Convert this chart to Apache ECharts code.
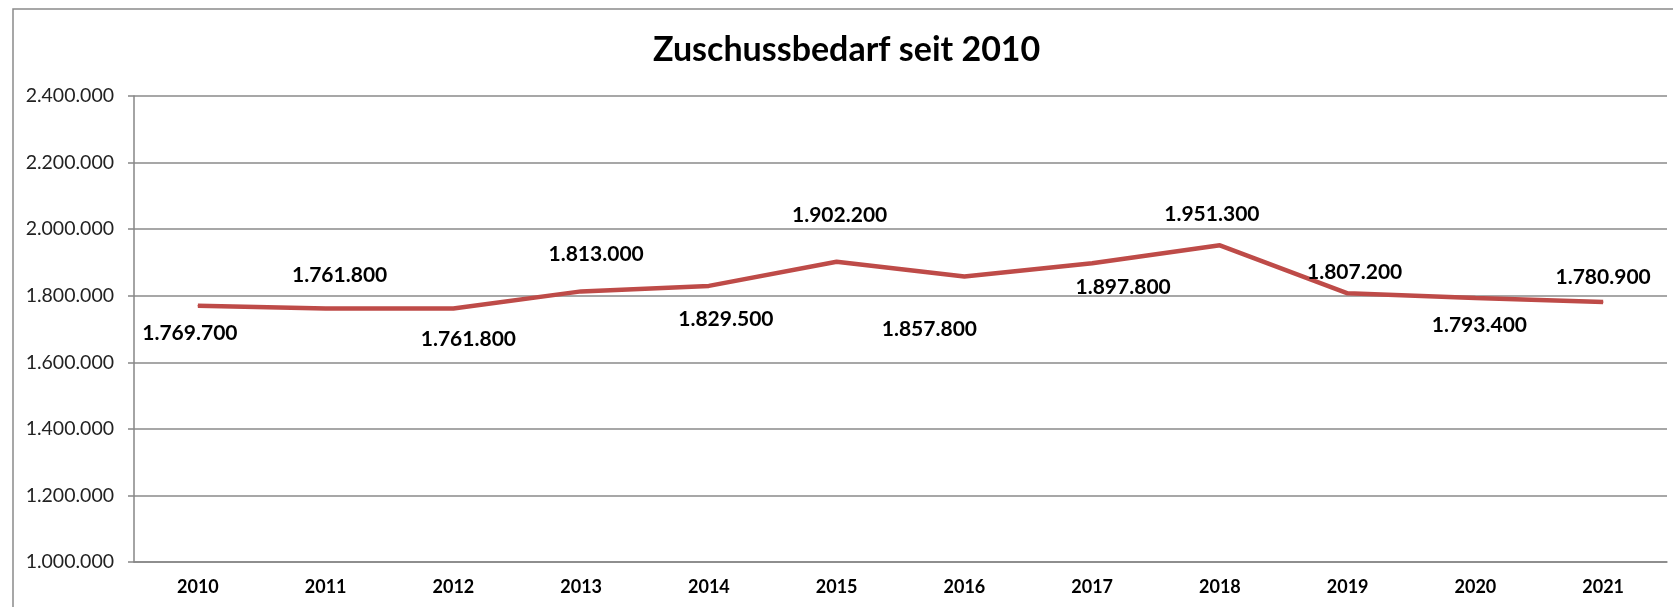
<!DOCTYPE html>
<html>
<head>
<meta charset="utf-8">
<script src="https://cdn.jsdelivr.net/npm/echarts@6/dist/echarts.min.js"></script>
<style>
  html, body { margin: 0; padding: 0; background: #fff; }
  #chart { width: 1673px; height: 607px; }
</style>
</head>
<body>
<div id="chart"></div>
<script>
const years = ['2010', '2011', '2012', '2013', '2014', '2015', '2016', '2017', '2018', '2019', '2020', '2021'];
const zuschuss = [1769700, 1761800, 1761800, 1813000, 1829500, 1902200, 1857800, 1897800, 1951300, 1807200, 1793400, 1780900];
const yTicks = [1000000, 2400000, 200000]; // min, max, step

// label placement like in the original (Excel puts them a bit everywhere)
const labelOffsets = [
  [-8, 27], [14, -33], [15, 31], [15, -37], [17, 33], [3, -46],
  [-35, 53], [31, 24], [-8, -31], [7, -21], [4, 27], [0, -25]
];

// 1769700 -> "1.769.700"
const fmt = v => String(v).replace(/\B(?=(\d{3})+(?!\d))/g, '.');

const chart = echarts.init(document.getElementById('chart'));

const option = {
  backgroundColor: '#fff',
  animation: false,
  title: {
    text: 'Zuschussbedarf seit 2010',
    left: 648,
    top: 28,
    textStyle: { fontFamily: 'Lato', fontWeight: 'bold', fontSize: 34, color: '#000' }
  },
  graphic: [{
    type: 'rect',
    shape: { x: 13, y: 9, width: 1700, height: 640 },
    style: { fill: null, stroke: '#8a8a8a', lineWidth: 1.5 },
    silent: true
  }],
  grid: { left: 134, right: 6, top: 96, bottom: 45 },
  xAxis: {
    type: 'category',
    data: years,
    boundaryGap: true,
    axisLine: { lineStyle: { color: '#868686', width: 1.5 } },
    axisTick: { length: 6, lineStyle: { color: '#868686', width: 1.5 } },
    axisLabel: { fontFamily: 'Lato', fontWeight: 'bold', fontSize: 18, color: '#000', margin: 16 }
  },
  yAxis: {
    type: 'value',
    min: yTicks[0],
    max: yTicks[1],
    interval: yTicks[2],
    axisLine: { show: true, lineStyle: { color: '#868686', width: 1.5 } },
    axisTick: { show: true, length: 6, lineStyle: { color: '#868686', width: 1.5 } },
    splitLine: { lineStyle: { color: '#8a8a8a', width: 1.5 } },
    axisLabel: { fontFamily: 'Lato', fontSize: 19.5, color: '#222', margin: 20, formatter: fmt }
  },
  series: [{
    type: 'line',
    data: zuschuss.map((v, i) => ({
      value: v,
      label: { offset: labelOffsets[i] }
    })),
    symbol: 'circle',
    symbolSize: 1,
    showSymbol: true,
    lineStyle: { color: '#BE4B48', width: 4.5 },
    itemStyle: { color: '#BE4B48' },
    label: {
      show: true,
      position: 'inside',
      align: 'center',
      verticalAlign: 'middle',
      fontFamily: 'Lato',
      fontWeight: 'bold',
      fontSize: 21,
      color: '#000',
      formatter: p => fmt(p.value)
    }
  }]
};

chart.setOption(option);
</script>
</body>
</html>
